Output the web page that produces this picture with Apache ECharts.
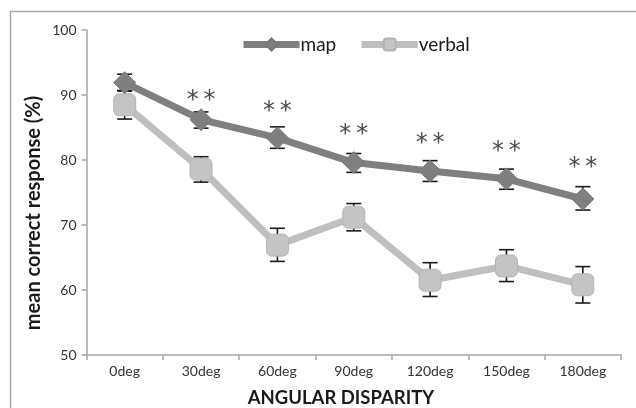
<!DOCTYPE html>
<html><head><meta charset="utf-8">
<script src="https://cdn.jsdelivr.net/npm/echarts@6/dist/echarts.min.js"></script>
<style>html,body{margin:0;padding:0;background:#fff}#c{width:636px;height:408px}</style>
</head><body><div id="c"></div>
<script>
const categories = ['0deg','30deg','60deg','90deg','120deg','150deg','180deg'];
const mapMean    = [91.9, 86.2, 83.4, 79.6, 78.3, 77.1, 74.0];
const mapLow     = [90.6, 84.9, 81.8, 78.1, 76.7, 75.5, 72.3];
const mapHigh    = [93.2, 87.4, 85.1, 81.0, 79.9, 78.6, 75.9];
const verbalMean = [88.5, 78.6, 66.9, 71.2, 61.5, 63.7, 60.8];
const verbalLow  = [86.3, 76.6, 64.4, 69.1, 59.0, 61.3, 58.0];
const verbalHigh = [90.7, 80.5, 69.5, 73.3, 64.2, 66.2, 63.6];
const starLevel  = [null, 90.0, 88.3, 84.8, 83.4, 82.2, 79.8];
const yTicks = {min: 50, max: 100, step: 10};

const FONT = 'Lato';
const chart = echarts.init(document.getElementById('c'), null, {renderer: 'canvas'});

function errSeries(low, high, name) {
  return {
    type: 'custom', name: name, z: 1, silent: true,
    data: low.map((l, i) => [i, l, high[i]]),
    renderItem: function (params, api) {
      const i = api.value(0);
      const a = api.coord([i, api.value(1)]);
      const b = api.coord([i, api.value(2)]);
      const hw = 7.5;
      const st = {stroke: '#1a1a1a', lineWidth: 1.6};
      return {type: 'group', children: [
        {type: 'line', shape: {x1: a[0], y1: a[1], x2: b[0], y2: b[1]}, style: st},
        {type: 'line', shape: {x1: a[0]-hw, y1: a[1], x2: a[0]+hw, y2: a[1]}, style: st},
        {type: 'line', shape: {x1: b[0]-hw, y1: b[1], x2: b[0]+hw, y2: b[1]}, style: st}
      ]};
    }
  };
}

chart.setOption({
  animation: false,
  textStyle: {fontFamily: FONT},
  grid: {left: 86.5, right: 15, top: 30, bottom: 53, containLabel: false},
  legend: {
    top: 30, left: 235, itemGap: 22, itemWidth: 56, itemHeight: 15,
    lineStyle: {width: 7},
    textStyle: {fontFamily: FONT, fontSize: 19, color: '#1a1a1a', padding: [0,0,0,-4]},
    data: ['map', 'verbal']
  },
  xAxis: {
    type: 'category', data: categories, boundaryGap: true,
    axisLine: {lineStyle: {color: '#a6a6a6', width: 1.5}},
    axisTick: {show: true, length: 5, interval: 0, lineStyle: {color: '#a6a6a6', width: 1.5}},
    axisLabel: {fontFamily: FONT, fontSize: 14, color: '#333', margin: 9, interval: 0},
    splitLine: {show: false}
  },
  yAxis: {
    type: 'value', min: yTicks.min, max: yTicks.max, interval: yTicks.step,
    axisLine: {show: true, lineStyle: {color: '#a6a6a6', width: 1.5}},
    axisTick: {show: true, length: 5, lineStyle: {color: '#a6a6a6', width: 1.5}},
    axisLabel: {fontFamily: FONT, fontSize: 14, color: '#333', margin: 10},
    splitLine: {show: false}
  },
  graphic: [
    {type: 'rect', shape: {x: 10.5, y: 11.5, width: 700, height: 500}, style: {fill: 'none', stroke: '#a6a6a6', lineWidth: 1.5}, z: -10},
    {type: 'text', x: 34, y: 213, rotation: Math.PI/2, style: {text: 'mean correct response (%)', font: 'bold 20px Lato', fill: '#1a1a1a', align: 'center', verticalAlign: 'middle'}},
    {type: 'text', x: 341, y: 398, style: {text: 'ANGULAR DISPARITY', font: 'bold 18.5px Lato', fill: '#1a1a1a', align: 'center', verticalAlign: 'middle'}}
  ],
  series: [
    errSeries(verbalLow, verbalHigh, 'verbalErr'),
    errSeries(mapLow, mapHigh, 'mapErr'),
    {
      name: 'verbal', type: 'line', data: verbalMean, z: 2,
      symbol: 'roundRect', symbolSize: 22,
      lineStyle: {color: '#bfbfbf', width: 7},
      itemStyle: {color: '#c4c4c4', borderColor: '#b4b4b4', borderWidth: 1}
    },
    {
      name: 'map', type: 'line', data: mapMean, z: 3,
      symbol: 'diamond', symbolSize: 22,
      lineStyle: {color: '#7f7f7f', width: 7},
      itemStyle: {color: '#7f7f7f', borderColor: '#777', borderWidth: 1}
    },
    {
      name: 'stars', type: 'scatter', data: starLevel, z: 4, symbolSize: 0, silent: true,
      label: {show: true, position: 'inside', formatter: '*\u2009*', fontFamily: 'DejaVu Sans', fontSize: 24, color: '#1a1a1a', offset: [0, 6]}
    }
  ]
});
</script></body></html>
